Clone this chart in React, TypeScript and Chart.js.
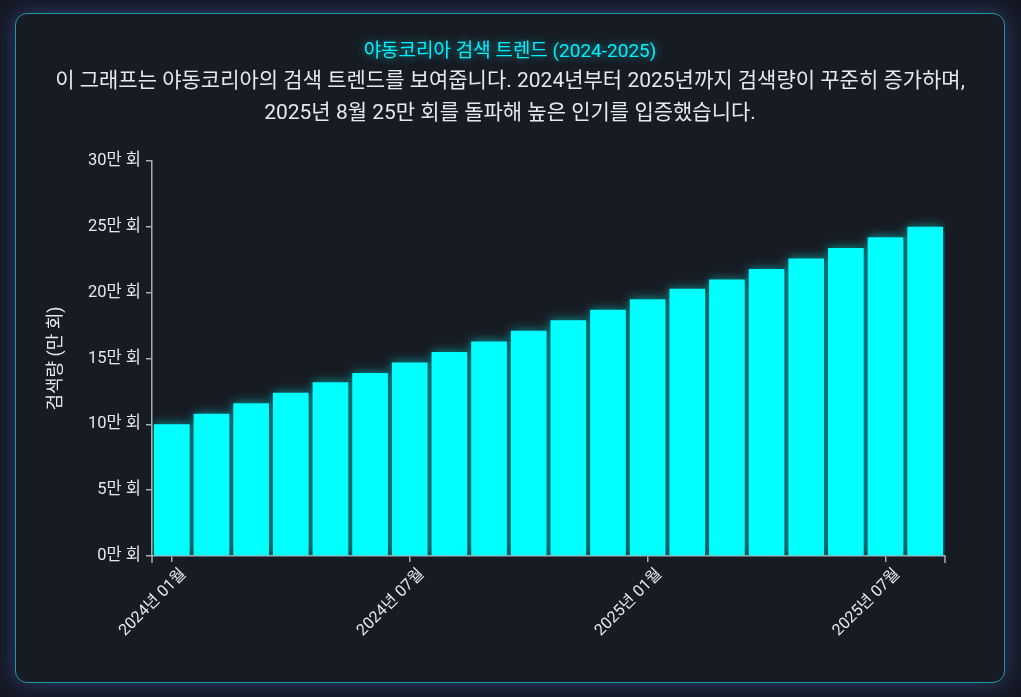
import React, { useEffect, useRef } from "react";
import { Chart, registerables } from "chart.js";

Chart.register(...registerables);

const months = [
  "2024년 01월", "2024년 02월", "2024년 03월", "2024년 04월", "2024년 05월",
  "2024년 06월", "2024년 07월", "2024년 08월", "2024년 09월", "2024년 10월",
  "2024년 11월", "2024년 12월", "2025년 01월", "2025년 02월", "2025년 03월",
  "2025년 04월", "2025년 05월", "2025년 06월", "2025년 07월", "2025년 08월",
];

// 검색량 (만 회)
const searchVolume = [
  10.0, 10.8, 11.6, 12.4, 13.2, 13.9, 14.7, 15.5, 16.3, 17.1,
  17.9, 18.7, 19.5, 20.3, 21.0, 21.8, 22.6, 23.4, 24.2, 25.0,
];

const yTicks = [0, 5, 10, 15, 20, 25, 30];

const FONT = "Roboto, 'Noto Sans CJK KR', sans-serif";
const AXIS = "#a9adb3";
const TEXT = "#e6e8ec";

// glow around the bars
const barGlow = {
  id: "barGlow",
  beforeDatasetsDraw(chart: Chart) {
    const ctx = chart.ctx;
    ctx.save();
    ctx.shadowColor = "rgba(0, 255, 255, 0.55)";
    ctx.shadowBlur = 10;
  },
  afterDatasetsDraw(chart: Chart) {
    chart.ctx.restore();
  },
};

// d3-like outer ticks at both ends of the x axis
const outerTicks = {
  id: "outerTicks",
  afterDraw(chart: Chart) {
    const x = chart.scales.x;
    const ctx = chart.ctx;
    ctx.save();
    ctx.strokeStyle = AXIS;
    ctx.lineWidth = 1.5;
    ctx.beginPath();
    ctx.moveTo(x.left, x.top);
    ctx.lineTo(x.left, x.top + 7);
    ctx.moveTo(x.right, x.top);
    ctx.lineTo(x.right, x.top + 7);
    ctx.stroke();
    ctx.restore();
  },
};

const TrendChart = () => {
  const chartRef = useRef<HTMLCanvasElement>(null);
  const chartInstanceRef = useRef<Chart | null>(null);

  useEffect(() => {
    const ctx = chartRef.current?.getContext("2d");
    if (!ctx) return;

    if (chartInstanceRef.current) {
      chartInstanceRef.current.destroy();
    }

    chartInstanceRef.current = new Chart(ctx, {
      type: "bar",
      data: {
        labels: months,
        datasets: [
          {
            label: "검색량",
            data: searchVolume,
            backgroundColor: "#00ffff",
            borderWidth: 0,
            barPercentage: 0.9,
            categoryPercentage: 1.0,
          },
        ],
      },
      plugins: [barGlow, outerTicks],
      options: {
        animation: false,
        responsive: false,
        layout: {
          padding: { top: 147, left: 0, right: 59, bottom: 0 },
        },
        plugins: {
          legend: { display: false },
          tooltip: { enabled: false },
        },
        scales: {
          x: {
            offset: true,
            afterFit: (scale) => {
              scale.height = 126;
            },
            grid: {
              offset: false,
              drawOnChartArea: false,
              tickLength: 6,
              lineWidth: 1.5,
              color: (c) => (c.index % 6 === 0 ? AXIS : "transparent"),
            },
            border: { color: AXIS, width: 1.5 },
            ticks: {
              autoSkip: false,
              maxRotation: 45,
              minRotation: 45,
              padding: 3,
              labelOffset: 12,
              color: TEXT,
              font: { family: FONT, size: 16 },
              callback: (_v, i) => (i % 6 === 0 ? months[i] : ""),
            },
          },
          y: {
            min: 0,
            max: 30,
            afterFit: (scale) => {
              scale.width = 136;
            },
            afterBuildTicks: (scale) => {
              scale.ticks = yTicks.map((v) => ({ value: v }));
            },
            grid: {
              drawOnChartArea: false,
              tickLength: 6,
              lineWidth: 1.5,
              color: AXIS,
            },
            border: { color: AXIS, width: 1.5 },
            ticks: {
              padding: 5,
              color: TEXT,
              font: { family: FONT, size: 16.5 },
              callback: (v) => `${v}만 회`,
            },
            title: {
              display: true,
              text: "검색량 (만 회)",
              color: TEXT,
              font: { family: FONT, size: 18 },
              padding: { top: 30, bottom: 0 },
            },
          },
        },
      },
    });

    return () => {
      if (chartInstanceRef.current) {
        chartInstanceRef.current.destroy();
        chartInstanceRef.current = null;
      }
    };
  }, []);

  return (
    <canvas
      ref={chartRef}
      width={988}
      height={668}
      style={{ position: "absolute", left: 0, top: 0, width: 988, height: 668 }}
    ></canvas>
  );
};

export default function App() {
  useEffect(() => {
    document.body.style.margin = "0";
    document.body.style.background = "#131823";
  }, []);

  return (
    <div
      style={{
        position: "relative",
        width: 1021,
        height: 697,
        background: "#131823",
        overflow: "hidden",
        fontFamily: FONT,
      }}
    >
      <div
        style={{
          position: "absolute",
          left: 15,
          top: 13,
          width: 990,
          height: 670,
          boxSizing: "border-box",
          border: "1px solid #1a9aa2",
          borderRadius: 12,
          background: "#171b23",
          boxShadow: "0 0 22px rgba(80, 90, 170, 0.55)",
        }}
      >
        <TrendChart />
        <div
          style={{
            position: "absolute",
            left: 0,
            right: 0,
            top: 25,
            textAlign: "center",
            color: "#00f0ff",
            fontSize: 19,
            lineHeight: "24px",
            textShadow: "0 0 8px rgba(0, 255, 255, 0.6)",
          }}
        >
          야동코리아 검색 트렌드 (2024-2025)
        </div>
        <div
          style={{
            position: "absolute",
            left: 0,
            right: 0,
            top: 50,
            textAlign: "center",
            color: TEXT,
            fontSize: 21,
            lineHeight: "32px",
            whiteSpace: "nowrap",
          }}
        >
          이 그래프는 야동코리아의 검색 트렌드를 보여줍니다. 2024년부터 2025년까지 검색량이 꾸준히 증가하며,
          <br />
          2025년 8월 25만 회를 돌파해 높은 인기를 입증했습니다.
        </div>
      </div>
    </div>
  );
}
